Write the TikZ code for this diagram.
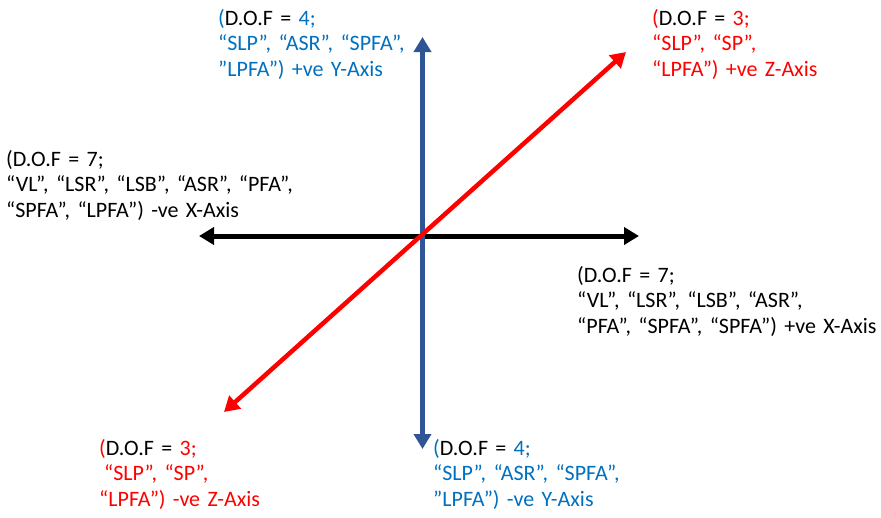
\documentclass[tikz,border=0pt]{standalone}
\usepackage{fontspec}
\setmainfont{Carlito}
\usetikzlibrary{arrows.meta}
\definecolor{txtblue}{HTML}{0070C0}
\definecolor{axblue}{HTML}{2F5597}
\definecolor{axred}{HTML}{FF0000}
\begin{document}
\begin{tikzpicture}[x=1pt,y=-1pt,
  lbl/.style={anchor=base west, inner sep=0pt, text width=330pt, align=left,
    font=\fontsize{22}{25.8}\selectfont},
  axis/.style={line width=5pt,
    {Triangle[length=15pt,width=17pt]}-{Triangle[length=15pt,width=17pt]}}]
\useasboundingbox (0,0) rectangle (881,517);
\coordinate (xm) at (199,236);
\coordinate (xp) at (639,236);
\coordinate (yp) at (422.5,37);
\coordinate (ym) at (422.5,449);
\coordinate (zm) at (224,412);
\coordinate (zp) at (626,52);
\draw[axis, black] (xm) -- (xp);
\draw[axis, axblue] (ym) -- (yp);
\draw[axis, axred, line width=4.5pt] (zm) -- (zp);
\node[lbl, txtblue] (tl) at (218,25) {(\textcolor{black}{D.O.F =} 4;\\“SLP”, “ASR”, “SPFA”,\\”LPFA”) +ve Y-Axis};
\node[lbl, axred] (tr) at (652,25) {(\textcolor{black}{D.O.F =} 3;\\“SLP”, “SP”,\\“LPFA”) +ve Z-Axis};
\node[lbl, black] (lf) at (6,166) {(D.O.F = 7;\\“VL”, “LSR”, “LSB”, “ASR”, “PFA”,\\“SPFA”, “LPFA”) -ve X-Axis};
\node[lbl, black] (rt) at (577,282) {(D.O.F = 7;\\“VL”, “LSR”, “LSB”, “ASR”,\\“PFA”, “SPFA”, “SPFA”) +ve X-Axis};
\node[lbl, axred] (bl) at (99,455) {(\textcolor{black}{D.O.F =} 3;\\\hspace*{5pt}“SLP”, “SP”,\\“LPFA”) -ve Z-Axis};
\node[lbl, txtblue] (br) at (433,455) {(\textcolor{black}{D.O.F =} 4;\\“SLP”, “ASR”, “SPFA”,\\”LPFA”) -ve Y-Axis};
\end{tikzpicture}
\end{document}
